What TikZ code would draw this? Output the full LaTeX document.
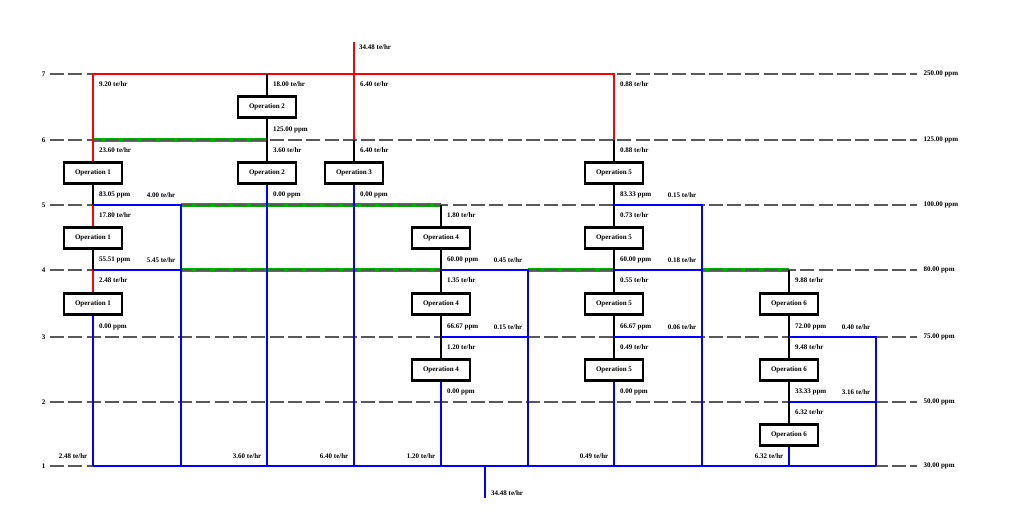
\documentclass[tikz,border=0pt]{standalone}
\usepackage{fontspec}
\setmainfont{Liberation Serif}
\definecolor{reusegreen}{RGB}{0,175,0}
\begin{document}
\begin{tikzpicture}[x=1pt,y=-1pt,font=\bfseries\fontsize{7}{8}\selectfont,
    op/.style={draw,line width=2.4pt,fill=white,minimum width=58pt,minimum height=21pt,inner sep=0pt},
    lvl/.style={black!65,line width=1.1pt,dash pattern=on 14pt off 4.3pt},
    fresh/.style={red,line width=2.4pt},
    used/.style={blue,line width=2.4pt},
    reuse/.style={reusegreen,line width=3.4pt},
    pipe/.style={black,line width=2.2pt},
    inlbl/.style={anchor=west,inner sep=0pt,xshift=6pt,yshift=-10.5pt},
    outlbl/.style={anchor=west,inner sep=0pt,xshift=6pt,yshift=10.5pt},
    sidelbl/.style={anchor=east,inner sep=0pt,xshift=-5.5pt,yshift=10pt}]
    \useasboundingbox (0,0) rectangle (1020,522);
    % grid of columns and concentration levels
    \foreach \col/\x in {A/93,B/181,C/267,D/354,E/441,F/528,G/614,H/702,I/789,J/876}
        \foreach \lev/\y in {7/74,6/140,5/205,4/270,3/337,2/402,1/466}
            \coordinate (\col\lev) at (\x,\y);
    \foreach \lev/\y in {7/74,6/140,5/205,4/270,3/337,2/402,1/466}{
        \coordinate (L\lev) at (50,\y);
        \coordinate (R\lev) at (917,\y);
    }
    \coordinate (in) at (354,42);
    \coordinate (mix) at (485,466);
    \coordinate (out) at (485,498);
    % operations
    \node[op] (op1a) at (93,173) {Operation 1};
    \node[op] (op1b) at (93,238) {Operation 1};
    \node[op] (op1c) at (93,304) {Operation 1};
    \node[op] (op2a) at (267,107) {Operation 2};
    \node[op] (op2b) at (267,173) {Operation 2};
    \node[op] (op3a) at (354,173) {Operation 3};
    \node[op] (op4a) at (441,238) {Operation 4};
    \node[op] (op4b) at (441,304) {Operation 4};
    \node[op] (op4c) at (441,370) {Operation 4};
    \node[op] (op5a) at (614,173) {Operation 5};
    \node[op] (op5b) at (614,238) {Operation 5};
    \node[op] (op5c) at (614,304) {Operation 5};
    \node[op] (op5d) at (614,370) {Operation 5};
    \node[op] (op6a) at (789,304) {Operation 6};
    \node[op] (op6b) at (789,370) {Operation 6};
    \node[op] (op6c) at (789,435) {Operation 6};
    % reused water
    \draw[reuse] (A6) -- (C6) (B5) -- (E5) (B4) -- (E4) (F4) -- (G4) (H4) -- (I4);
    % levels
    \foreach \lev/\ppm in {7/250.00,6/125.00,5/100.00,4/80.00,3/75.00,2/50.00,1/30.00}
        \draw[lvl] (L\lev) node[left,inner sep=0pt,xshift=-4pt,black] (num\lev) {\lev}
            -- (R\lev) node[right,inner sep=0pt,xshift=6pt,black] (ppm\lev) {\ppm{} ppm};
    % fresh water
    \draw[fresh] (in) -- (D6);
    \draw[fresh] (A7) -- (G7) -- (G6);
    \draw[fresh] (A7) -- (op1a) (A5) -- (op1b) (A4) -- (op1c);
    % pipes through the operations
    \foreach \a/\b in {C7/op2a,op2a/C6,C6/op2b,op1a/A5,op1b/A4,D6/op3a,
            E5/op4a,op4a/E4,E4/op4b,op4b/E3,E3/op4c,
            G6/op5a,op5a/G5,G5/op5b,op5b/G4,G4/op5c,op5c/G3,G3/op5d,
            I4/op6a,op6a/I3,I3/op6b,op6b/I2,I2/op6c}
        \draw[pipe] (\a) -- (\b);
    % waste water
    \draw[used] (A1) -- (J1) (mix) -- (out);
    \draw[used] (op1c) -- (A1) (A5) -- (B5) -- (B1) (A4) -- (B4);
    \draw[used] (op2b) -- (C1) (op3a) -- (D1) (op4c) -- (E1);
    \draw[used] (E4) -- (F4) -- (F1) (E3) -- (F3);
    \draw[used] (op5d) -- (G1) (G5) -- (H5) -- (H1) (G4) -- (H4) (G3) -- (H3);
    \draw[used] (op6c) -- (I1) (I3) -- (J3) -- (J1) (I2) -- (J2);
    % flows and concentrations
    \node[anchor=west,inner sep=0pt,xshift=5pt,yshift=-5pt] (fin) at (in) {34.48 te/hr};
    \node[anchor=west,inner sep=0pt,xshift=6pt,yshift=5pt] (fout) at (out) {34.48 te/hr};
    \node[inlbl] (f1a) at (A7) {9.20 te/hr};
    \node[inlbl] (f1b) at (A6) {23.60 te/hr};
    \node[outlbl] (c1a) at (A5) {83.05 ppm};
    \node[sidelbl] (w1a) at (B5) {4.00 te/hr};
    \node[inlbl] (f1c) at (A5) {17.80 te/hr};
    \node[outlbl] (c1b) at (A4) {55.51 ppm};
    \node[sidelbl] (w1b) at (B4) {5.45 te/hr};
    \node[inlbl] (f1d) at (A4) {2.48 te/hr};
    \node[outlbl] (c1c) at (A3) {0.00 ppm};
    \node[inlbl] (f2a) at (C7) {18.00 te/hr};
    \node[outlbl] (c2a) at (C6) {125.00 ppm};
    \node[inlbl] (f2b) at (C6) {3.60 te/hr};
    \node[outlbl] (c2b) at (C5) {0.00 ppm};
    \node[inlbl] (f3a) at (D7) {6.40 te/hr};
    \node[inlbl] (f3b) at (D6) {6.40 te/hr};
    \node[outlbl] (c3a) at (D5) {0.00 ppm};
    \node[inlbl] (f4a) at (E5) {1.80 te/hr};
    \node[outlbl] (c4a) at (E4) {60.00 ppm};
    \node[sidelbl] (w4a) at (F4) {0.45 te/hr};
    \node[inlbl] (f4b) at (E4) {1.35 te/hr};
    \node[outlbl] (c4b) at (E3) {66.67 ppm};
    \node[sidelbl] (w4b) at (F3) {0.15 te/hr};
    \node[inlbl] (f4c) at (E3) {1.20 te/hr};
    \node[outlbl] (c4c) at (E2) {0.00 ppm};
    \node[inlbl] (f5a) at (G7) {0.88 te/hr};
    \node[inlbl] (f5b) at (G6) {0.88 te/hr};
    \node[outlbl] (c5a) at (G5) {83.33 ppm};
    \node[sidelbl] (w5a) at (H5) {0.15 te/hr};
    \node[inlbl] (f5c) at (G5) {0.73 te/hr};
    \node[outlbl] (c5b) at (G4) {60.00 ppm};
    \node[sidelbl] (w5b) at (H4) {0.18 te/hr};
    \node[inlbl] (f5d) at (G4) {0.55 te/hr};
    \node[outlbl] (c5c) at (G3) {66.67 ppm};
    \node[sidelbl] (w5c) at (H3) {0.06 te/hr};
    \node[inlbl] (f5e) at (G3) {0.49 te/hr};
    \node[outlbl] (c5d) at (G2) {0.00 ppm};
    \node[inlbl] (f6a) at (I4) {9.88 te/hr};
    \node[outlbl] (c6a) at (I3) {72.00 ppm};
    \node[sidelbl] (w6a) at (J3) {0.40 te/hr};
    \node[inlbl] (f6b) at (I3) {9.48 te/hr};
    \node[outlbl] (c6b) at (I2) {33.33 ppm};
    \node[sidelbl] (w6b) at (J2) {3.16 te/hr};
    \node[inlbl] (f6c) at (I2) {6.32 te/hr};
    % discharges
    \node[sidelbl] (d1) at (A1) {2.48 te/hr};
    \node[sidelbl] (d2) at (C1) {3.60 te/hr};
    \node[sidelbl] (d3) at (D1) {6.40 te/hr};
    \node[sidelbl] (d4) at (E1) {1.20 te/hr};
    \node[sidelbl] (d5) at (G1) {0.49 te/hr};
    \node[sidelbl] (d6) at (I1) {6.32 te/hr};
\end{tikzpicture}
\end{document}
